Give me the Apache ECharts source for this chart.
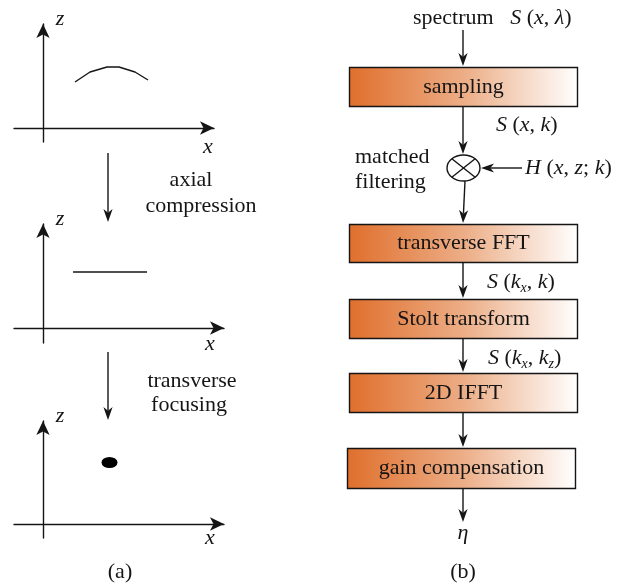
<!DOCTYPE html>
<html>
<head>
<meta charset="utf-8">
<script src="https://cdn.jsdelivr.net/npm/echarts@6/dist/echarts.min.js"></script>
<style>html,body{margin:0;padding:0;background:#fff}#main{width:633px;height:585px}</style>
</head>
<body>
<div id="main"></div>
<script>
// ---------- data ----------
// (a) panel 1: curved echo (x, z) relative to axes origin
const arcX = [32, 47, 64, 76, 92, 105];
const arcZ = [46, 56, 61, 61, 56, 48];
// (a) panel 2: axially compressed line
const lineX = [30, 104];
const lineZ = [56, 56];
// (a) panel 3: focused point
const dotX = [66.5];
const dotZ = [61.5];
const processLabels = [['axial', 'compression'], ['transverse', 'focusing']];
const axisNames = ['x', 'z'];
// (b) flow chart
const stepLabels = ['sampling', 'transverse FFT', 'Stolt transform', '2D IFFT', 'gain compensation'];
const signalLabels = [
  'spectrum   {i|S} ({i|x}, {i|λ})',
  '{i|S} ({i|x}, {i|k})',
  '{i|H} ({i|x}, {i|z}; {i|k})',
  '{i|S} ({i|k}{s|x}, {i|k})',
  '{i|S} ({i|k}{s|x}, {i|k}{s|z})',
  '{i|η}'
];
const panelLabels = ['(a)', '(b)'];

// ---------- layout ----------
const W = 633, H = 585, AH = 14;
const FONT = "'Liberation Serif','Times New Roman',serif";
const INK = '#151515';
const panels = [
  {ox: 43, oy: 128, left: 14, tipX: 221, tipY: 17, bottom: 142},
  {ox: 43, oy: 328, left: 14, tipX: 231, tipY: 217, bottom: 343},
  {ox: 43, oy: 524, left: 14, tipX: 231, tipY: 414, bottom: 538}
];
const boxLayout = [[349, 67, 577, 106], [349, 224, 577, 262], [349, 299, 577, 338], [349, 373, 577, 412], [347, 448, 575, 488]];
const arrowLayout = [
  [463, 30, 463, 66], [463, 107, 463, 154], [465, 181, 463, 223], [522, 168, 481, 168],
  [463, 262, 463, 298], [463, 338, 463, 372], [463, 412, 463, 447], [463, 488, 463, 522],
  [108, 153, 108, 222], [108, 352, 108, 420]
];
const mixer = {cx: 463.5, cy: 168, rx: 16.5, ry: 13};
const signalPos = [[413, 18, 'left'], [496, 125, 'left'], [525, 168, 'left'], [487, 282, 'left'], [488, 358, 'left'], [463, 533, 'center']];
const procPos = [[[191, 180], [201, 206]], [[192, 381], [189, 405]]];
const axisNamePos = [[[208, 147], [60, 19]], [[210, 344], [60, 219]], [[210, 538], [60, 416]]];
const panelLabelPos = [[120, 572], [463, 572]];
const matchedPos = [[355, 157, 'matched'], [355, 182, 'filtering']];

const chart = echarts.init(document.getElementById('main'), null, {renderer: 'canvas'});

const grids = [], xAxes = [], yAxes = [], series = [];
panels.forEach((p, k) => {
  grids.push({left: p.left, top: p.tipY + AH / 2, width: (p.tipX - AH / 2) - p.left, height: p.bottom - (p.tipY + AH / 2), outerBoundsMode: 'none', containLabel: false});
  const axisLine = {show: true, onZero: true, symbol: ['none', 'arrow'], symbolSize: [10, AH], lineStyle: {color: INK, width: 1.4}};
  xAxes.push({type: 'value', gridIndex: k, min: p.left - p.ox, max: p.tipX - AH / 2 - p.ox, axisLine, axisTick: {show: false}, axisLabel: {show: false}, splitLine: {show: false}});
  yAxes.push({type: 'value', gridIndex: k, min: -(p.bottom - p.oy), max: p.oy - (p.tipY + AH / 2), axisLine, axisTick: {show: false}, axisLabel: {show: false}, splitLine: {show: false}});
});
// hidden full-canvas grid for the flow chart
grids.push({left: 0, top: 0, width: W, height: H, outerBoundsMode: 'none', containLabel: false});
xAxes.push({type: 'value', gridIndex: 3, min: 0, max: W, show: false});
yAxes.push({type: 'value', gridIndex: 3, min: 0, max: H, inverse: true, show: false});

series.push({type: 'line', xAxisIndex: 0, yAxisIndex: 0, data: arcX.map((x, i) => [x, arcZ[i]]), showSymbol: false, lineStyle: {color: INK, width: 1.4}, silent: true});
series.push({type: 'line', xAxisIndex: 1, yAxisIndex: 1, data: lineX.map((x, i) => [x, lineZ[i]]), showSymbol: false, lineStyle: {color: INK, width: 1.4}, silent: true});
series.push({type: 'scatter', xAxisIndex: 2, yAxisIndex: 2, data: dotX.map((x, i) => [x, dotZ[i]]), symbol: 'circle', symbolSize: [16, 11], itemStyle: {color: '#000', opacity: 1}, silent: true});

const grad = () => new echarts.graphic.LinearGradient(0, 0, 1, 0, [
  {offset: 0, color: '#E06F2C'}, {offset: 0.5, color: '#ECAD86'}, {offset: 1, color: '#FFFFFF'}
]);

series.push({
  type: 'custom', xAxisIndex: 3, yAxisIndex: 3, silent: true,
  data: boxLayout.map(b => [b[0], b[1]]),
  renderItem(params, api) {
    const b = boxLayout[params.dataIndex];
    const p0 = api.coord([b[0], b[1]]), p1 = api.coord([b[2], b[3]]);
    return {
      type: 'rect',
      shape: {x: Math.round(p0[0]) + 0.5, y: Math.round(p0[1]) + 0.5, width: Math.round(p1[0] - p0[0]), height: Math.round(p1[1] - p0[1])},
      style: {fill: grad(), stroke: INK, lineWidth: 1.4},
      textContent: {style: {text: stepLabels[params.dataIndex], font: '22px ' + FONT, fill: INK}},
      textConfig: {position: 'inside'}
    };
  }
});

series.push({
  type: 'custom', xAxisIndex: 3, yAxisIndex: 3, silent: true,
  data: arrowLayout.map(a => [a[0], a[1]]),
  renderItem(params, api) {
    const a = arrowLayout[params.dataIndex];
    const s = api.coord([a[0], a[1]]), e = api.coord([a[2], a[3]]);
    const dx = e[0] - s[0], dy = e[1] - s[1], L = Math.hypot(dx, dy);
    const ux = dx / L, uy = dy / L, nx = -uy, ny = ux;
    const len = 13, hw = 4.6;
    const bx = e[0] - ux * len, by = e[1] - uy * len;
    const mx = e[0] - ux * len * 0.72, my = e[1] - uy * len * 0.72;
    return {
      type: 'group',
      children: [
        {type: 'line', shape: {x1: s[0], y1: s[1], x2: mx, y2: my}, style: {stroke: INK, lineWidth: 1.4}},
        {type: 'polygon', shape: {points: [[e[0], e[1]], [bx + nx * hw, by + ny * hw], [mx, my], [bx - nx * hw, by - ny * hw]]}, style: {fill: INK}}
      ]
    };
  }
});

series.push({
  type: 'custom', xAxisIndex: 3, yAxisIndex: 3, silent: true,
  data: [[mixer.cx, mixer.cy]],
  renderItem(params, api) {
    const c = api.coord([mixer.cx, mixer.cy]);
    const k = Math.SQRT1_2;
    return {
      type: 'group',
      children: [
        {type: 'ellipse', shape: {cx: c[0], cy: c[1], rx: mixer.rx, ry: mixer.ry}, style: {fill: '#fff', stroke: INK, lineWidth: 1.4}},
        {type: 'line', shape: {x1: c[0] - mixer.rx * k, y1: c[1] - mixer.ry * k, x2: c[0] + mixer.rx * k, y2: c[1] + mixer.ry * k}, style: {stroke: INK, lineWidth: 1.4}},
        {type: 'line', shape: {x1: c[0] - mixer.rx * k, y1: c[1] + mixer.ry * k, x2: c[0] + mixer.rx * k, y2: c[1] - mixer.ry * k}, style: {stroke: INK, lineWidth: 1.4}}
      ]
    };
  }
});

const rich = {
  i: {fontFamily: FONT, fontStyle: 'italic', fontSize: 22, color: INK},
  s: {fontFamily: FONT, fontStyle: 'italic', fontSize: 14, color: INK, padding: [12, 0, 0, 0]}
};
const graphics = [];
const txt = (text, x, y, align, extra) => graphics.push({
  type: 'text', silent: true,
  style: Object.assign({text, x, y, align: align || 'center', verticalAlign: 'middle', font: '22px ' + FONT, fill: INK, rich}, extra || {})
});
signalLabels.forEach((t, i) => txt(t, signalPos[i][0], signalPos[i][1], signalPos[i][2]));
matchedPos.forEach(m => txt(m[2], m[0], m[1], 'left'));
processLabels.forEach((pair, i) => pair.forEach((t, j) => txt(t, procPos[i][j][0], procPos[i][j][1], 'center')));
axisNamePos.forEach(pp => {
  txt(axisNames[0], pp[0][0], pp[0][1], 'center', {font: 'italic 22px ' + FONT});
  txt(axisNames[1], pp[1][0], pp[1][1], 'center', {font: 'italic 22px ' + FONT});
});
panelLabels.forEach((t, i) => txt(t, panelLabelPos[i][0], panelLabelPos[i][1], 'center'));

chart.setOption({
  backgroundColor: '#fff',
  animation: false,
  grid: grids, xAxis: xAxes, yAxis: yAxes, series,
  graphic: {elements: graphics}
});
</script>
</body>
</html>
